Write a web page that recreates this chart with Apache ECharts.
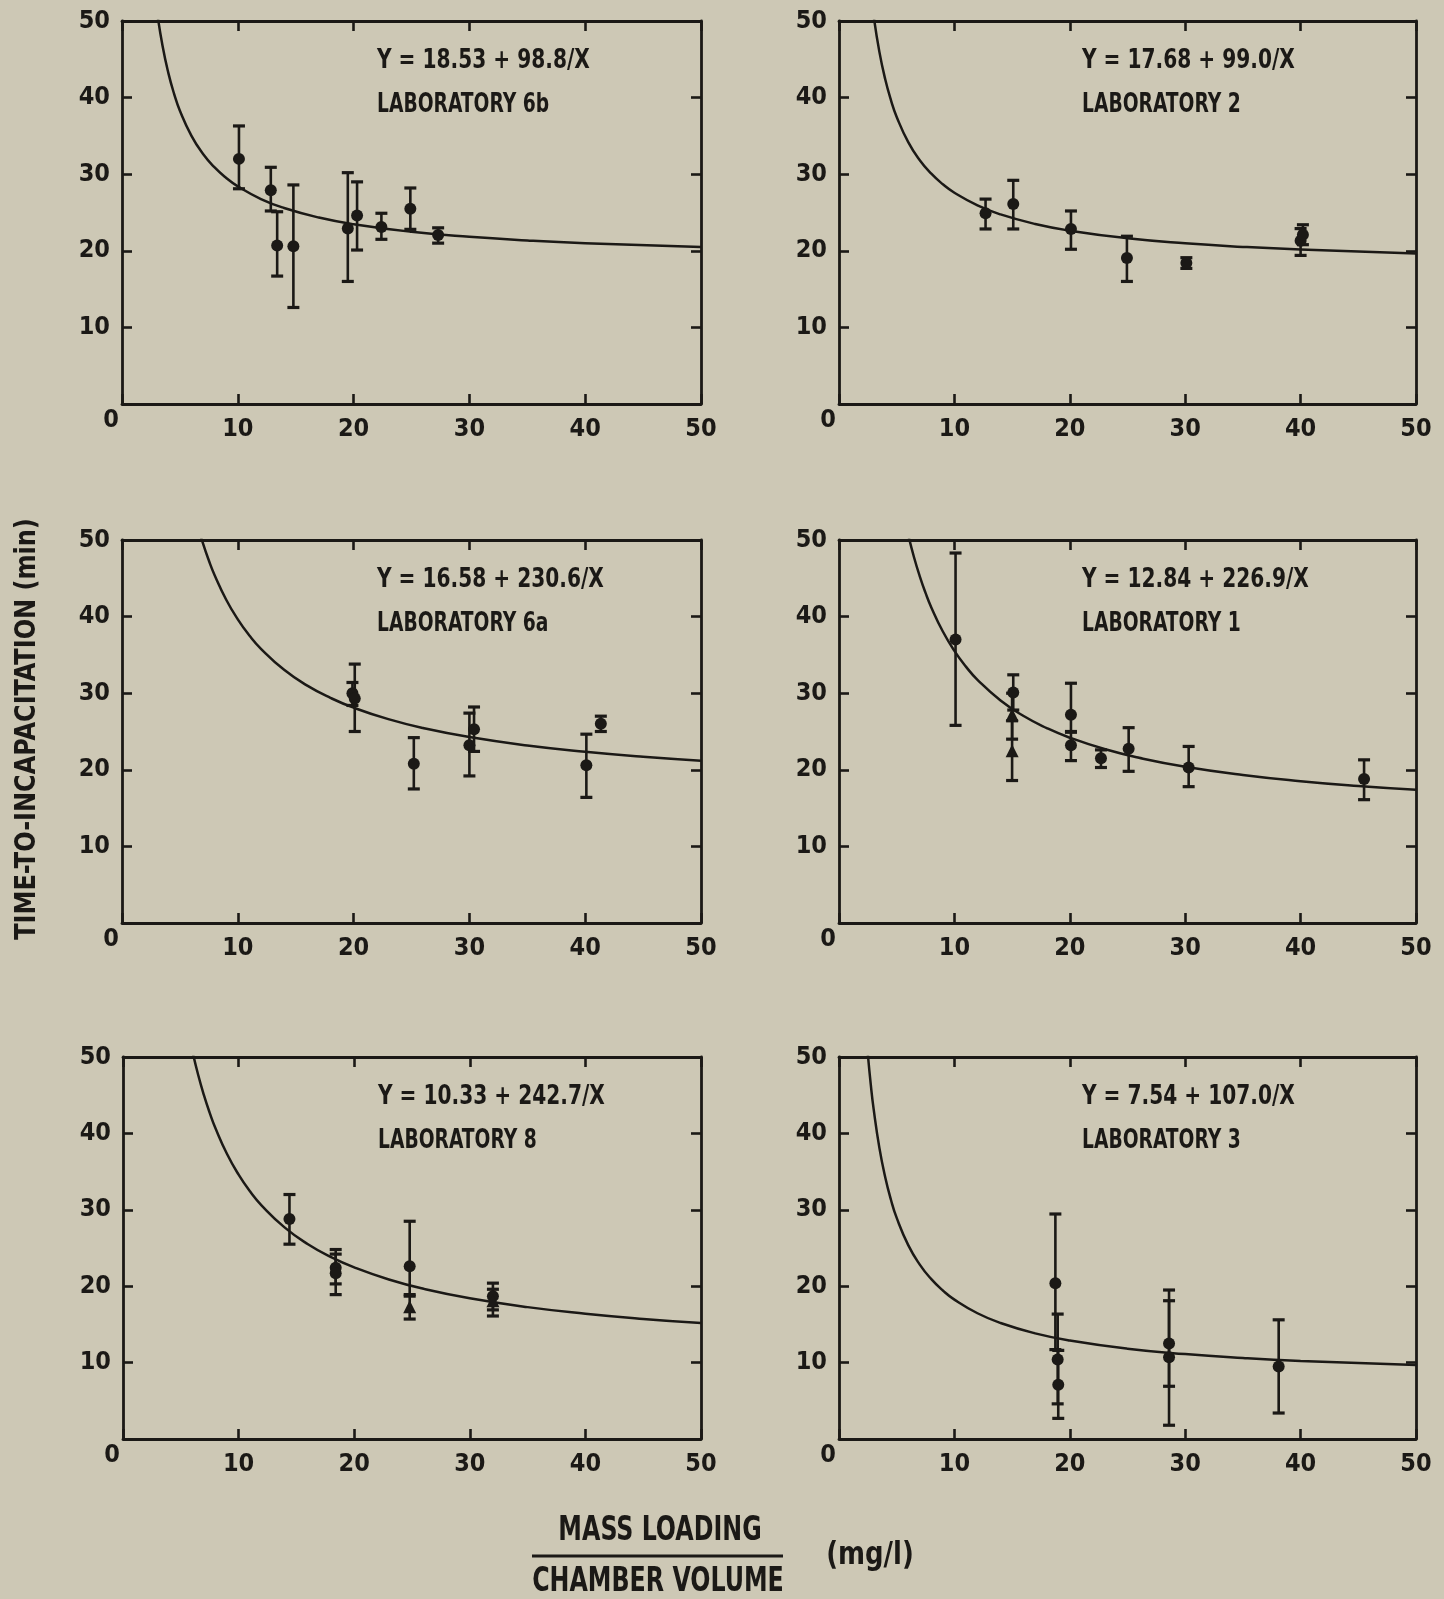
<!DOCTYPE html>
<html>
<head>
<meta charset="utf-8">
<script src="https://cdn.jsdelivr.net/npm/echarts@6/dist/echarts.min.js"></script>
<style>
html,body{margin:0;padding:0;background:#cdc8b5;}
#chart{width:1444px;height:1599px;}
</style>
</head>
<body>
<div id="chart"></div>
<script>
// ---------- tick labels ----------
const xTicks = [0, 10, 20, 30, 40, 50];
const yTicks = [0, 10, 20, 30, 40, 50];

// ---------- panel texts ----------
const equations = ['Y = 18.53 + 98.8/X', 'Y = 17.68 + 99.0/X', 'Y = 16.58 + 230.6/X',
                   'Y = 12.84 + 226.9/X', 'Y = 10.33 + 242.7/X', 'Y = 7.54 + 107.0/X'];
const labNames = ['LABORATORY 6b', 'LABORATORY 2', 'LABORATORY 6a',
                  'LABORATORY 1', 'LABORATORY 8', 'LABORATORY 3'];
const yTitle = 'TIME-TO-INCAPACITATION (min)';
const xTitleTop = 'MASS LOADING';
const xTitleBottom = 'CHAMBER VOLUME';
const xUnit = '(mg/l)';

// ---------- Laboratory 6b ----------
const lab6bX  = [10.1, 12.85, 13.4, 14.8, 19.5, 20.3, 22.4, 24.9, 27.3];
const lab6bY  = [32.0, 27.9, 20.7, 20.6, 22.9, 24.6, 23.1, 25.5, 22.05];
const lab6bLo = [28.1, 25.2, 16.7, 12.6, 16.0, 20.1, 21.5, 22.8, 21.0];
const lab6bHi = [36.3, 30.9, 25.1, 28.6, 30.2, 29.0, 24.9, 28.2, 23.0];
const lab6bSym = ['c','c','c','c','c','c','c','c','c'];
const curve6bX = [3, 3.5, 4, 4.5, 5, 6, 7, 8, 9, 10, 12, 14, 17, 20, 25, 30, 35, 40, 50];
const curve6bY = [51.46, 46.76, 43.23, 40.49, 38.29, 35.00, 32.64, 30.88, 29.51, 28.41, 26.76, 25.59, 24.34, 23.47, 22.48, 21.82, 21.35, 21.00, 20.51];

// ---------- Laboratory 2 ----------
const lab2X  = [12.7, 15.1, 20.1, 24.95, 30.1, 40.0, 40.2];
const lab2Y  = [24.9, 26.1, 22.85, 19.05, 18.4, 21.3, 22.1];
const lab2Lo = [22.85, 22.85, 20.2, 16.0, 17.7, 19.4, 20.8];
const lab2Hi = [26.75, 29.2, 25.2, 21.9, 19.1, 22.9, 23.4];
const lab2Sym = ['c','c','c','c','c','c','c'];
const curve2X = [3, 3.5, 4, 4.5, 5, 6, 7, 8, 9, 10, 12, 14, 17, 20, 25, 30, 35, 40, 50];
const curve2Y = [50.68, 45.97, 42.43, 39.68, 37.48, 34.18, 31.82, 30.06, 28.68, 27.58, 25.93, 24.75, 23.50, 22.63, 21.64, 20.98, 20.51, 20.16, 19.66];

// ---------- Laboratory 6a ----------
const lab6aX  = [19.9, 20.1, 25.2, 30.0, 30.4, 40.1, 41.35];
const lab6aY  = [30.0, 29.3, 20.8, 23.2, 25.3, 20.6, 26.0];
const lab6aLo = [28.4, 25.0, 17.5, 19.2, 22.4, 16.4, 25.0];
const lab6aHi = [31.4, 33.8, 24.2, 27.4, 28.2, 24.65, 27.0];
const lab6aSym = ['c','c','c','c','c','c','c'];
const curve6aX = [6.5, 7, 7.5, 8, 9, 10, 11, 12, 14, 16, 18, 20, 23, 26, 30, 35, 40, 45, 50];
const curve6aY = [52.06, 49.52, 47.33, 45.41, 42.20, 39.64, 37.54, 35.80, 33.05, 30.99, 29.39, 28.11, 26.61, 25.45, 24.27, 23.17, 22.35, 21.70, 21.19];

// ---------- Laboratory 1 ----------
const lab1X  = [10.1, 15.1, 15.0, 15.0, 20.1, 20.1, 22.7, 25.1, 30.3, 45.5];
const lab1Y  = [37.0, 30.1, 27.2, 22.5, 27.2, 23.2, 21.5, 22.75, 20.3, 18.8];
const lab1Lo = [25.8, 27.8, 24.0, 18.6, 24.9, 21.2, 20.3, 19.8, 17.8, 16.1];
const lab1Hi = [48.3, 32.4, 30.0, 26.4, 31.3, 25.0, 22.6, 25.5, 23.05, 21.3];
const lab1Sym = ['c','c','t','t','c','c','c','c','c','c'];
const curve1X = [6, 6.5, 7, 7.5, 8, 9, 10, 11, 12, 14, 16, 18, 20, 23, 26, 30, 35, 40, 45, 50];
const curve1Y = [50.66, 47.75, 45.25, 43.09, 41.20, 38.05, 35.53, 33.47, 31.75, 29.05, 27.02, 25.45, 24.19, 22.71, 21.57, 20.40, 19.32, 18.51, 17.88, 17.38];

// ---------- Laboratory 8 ----------
const lab8X  = [14.4, 18.4, 18.4, 24.8, 24.8, 32.0, 32.0];
const lab8Y  = [28.8, 22.4, 21.7, 22.6, 17.3, 18.7, 18.1];
const lab8Lo = [25.5, 20.3, 18.9, 18.7, 15.7, 16.1, 16.9];
const lab8Hi = [32.0, 24.8, 24.2, 28.5, 18.9, 20.4, 19.6];
const lab8Sym = ['c','c','c','c','t','c','t'];
const curve8X = [6, 6.5, 7, 7.5, 8, 9, 10, 11, 12, 14, 16, 18, 20, 23, 26, 30, 35, 40, 45, 50];
const curve8Y = [50.78, 47.67, 45.00, 42.69, 40.67, 37.30, 34.60, 32.39, 30.56, 27.67, 25.50, 23.81, 22.47, 20.88, 19.66, 18.42, 17.26, 16.40, 15.72, 15.18];

// ---------- Laboratory 3 ----------
const lab3X  = [18.75, 18.95, 19.0, 28.6, 28.6, 38.1];
const lab3Y  = [20.4, 10.4, 7.1, 12.5, 10.7, 9.5];
const lab3Lo = [11.7, 4.6, 2.7, 6.9, 1.8, 3.4];
const lab3Hi = [29.45, 16.35, 11.6, 19.5, 18.1, 15.6];
const lab3Sym = ['c','c','c','c','c','c'];
const curve3X = [2.5, 2.75, 3, 3.5, 4, 4.5, 5, 6, 7, 8, 9, 10, 12, 14, 17, 20, 25, 30, 35, 40, 50];
const curve3Y = [50.34, 46.45, 43.21, 38.11, 34.29, 31.32, 28.94, 25.37, 22.83, 20.92, 19.43, 18.24, 16.46, 15.18, 13.83, 12.89, 11.82, 11.11, 10.60, 10.22, 9.68];

// ---------- assembly ----------
const panels = [
  {x: lab6bX, y: lab6bY, lo: lab6bLo, hi: lab6bHi, sym: lab6bSym, cx: curve6bX, cy: curve6bY},
  {x: lab2X,  y: lab2Y,  lo: lab2Lo,  hi: lab2Hi,  sym: lab2Sym,  cx: curve2X,  cy: curve2Y},
  {x: lab6aX, y: lab6aY, lo: lab6aLo, hi: lab6aHi, sym: lab6aSym, cx: curve6aX, cy: curve6aY},
  {x: lab1X,  y: lab1Y,  lo: lab1Lo,  hi: lab1Hi,  sym: lab1Sym,  cx: curve1X,  cy: curve1Y},
  {x: lab8X,  y: lab8Y,  lo: lab8Lo,  hi: lab8Hi,  sym: lab8Sym,  cx: curve8X,  cy: curve8Y},
  {x: lab3X,  y: lab3Y,  lo: lab3Lo,  hi: lab3Hi,  sym: lab3Sym,  cx: curve3X,  cy: curve3Y}
];

const INK = '#1b1916';
const BG = '#cdc8b5';
const FONT = "'Liberation Sans Narrow','DejaVu Sans Condensed','Arial Narrow','Liberation Sans',sans-serif";

const layout = [
  {left: 122, top: 21,   width: 579, height: 383},
  {left: 839, top: 21,   width: 577, height: 383},
  {left: 122, top: 540,  width: 579, height: 383},
  {left: 839, top: 540,  width: 577, height: 383},
  {left: 123, top: 1057, width: 578, height: 382},
  {left: 839, top: 1057, width: 577, height: 382}
];

const grids = [], xAxes = [], yAxes = [], series = [], graphics = [];

const axisLineStyle = {color: INK, width: 2.8};
const tickStyle = {show: true, inside: true, length: 10, lineStyle: {color: INK, width: 2.6}};
const LABEL_SIZE = 25;

layout.forEach((g) => {
  grids.push({left: g.left, top: g.top, width: g.width, height: g.height, containLabel: false, show: false});
});
// bottom x axes
layout.forEach((g, i) => {
  xAxes.push({
    type: 'value', gridIndex: i, position: 'bottom',
    min: xTicks[0], max: xTicks[xTicks.length - 1], interval: 10,
    axisLine: {show: true, onZero: false, lineStyle: axisLineStyle},
    axisTick: tickStyle,
    splitLine: {show: false},
    axisLabel: {
      show: true, margin: 13, color: INK, fontFamily: FONT, fontWeight: 'bold', fontSize: LABEL_SIZE,
      formatter: v => v === 0 ? '{z|0}' : String(v),
      rich: {z: {padding: [0, 22, 0, 0], lineHeight: 6, color: INK, fontFamily: FONT, fontWeight: 'bold', fontSize: LABEL_SIZE}}
    }
  });
});
// top x axes
layout.forEach((g, i) => {
  xAxes.push({
    type: 'value', gridIndex: i, position: 'top',
    min: xTicks[0], max: xTicks[xTicks.length - 1], interval: 10,
    axisLine: {show: true, onZero: false, lineStyle: axisLineStyle},
    axisTick: tickStyle, splitLine: {show: false}, axisLabel: {show: false}
  });
});
// left y axes
layout.forEach((g, i) => {
  yAxes.push({
    type: 'value', gridIndex: i, position: 'left',
    min: yTicks[0], max: yTicks[yTicks.length - 1], interval: 10,
    axisLine: {show: true, onZero: false, lineStyle: axisLineStyle},
    axisTick: tickStyle, splitLine: {show: false},
    axisLabel: {
      show: true, margin: 12, color: INK, fontFamily: FONT, fontWeight: 'bold', fontSize: LABEL_SIZE,
      formatter: v => v === 0 ? '' : String(v)
    }
  });
});
// right y axes
layout.forEach((g, i) => {
  yAxes.push({
    type: 'value', gridIndex: i, position: 'right',
    min: yTicks[0], max: yTicks[yTicks.length - 1], interval: 10,
    axisLine: {show: true, onZero: false, lineStyle: axisLineStyle},
    axisTick: tickStyle, splitLine: {show: false}, axisLabel: {show: false}
  });
});

panels.forEach((p, i) => {
  // fitted curve
  series.push({
    type: 'line', xAxisIndex: i, yAxisIndex: i,
    data: p.cx.map((x, k) => [x, p.cy[k]]),
    showSymbol: false, smooth: 0.5, clip: true,
    lineStyle: {color: INK, width: 2.5}, silent: true, z: 2
  });
  // error bars
  series.push({
    type: 'custom', xAxisIndex: i, yAxisIndex: i,
    data: p.x.map((x, k) => [x, p.lo[k], p.hi[k]]),
    renderItem: (params, api) => {
      const a = api.coord([api.value(0), api.value(1)]);
      const b = api.coord([api.value(0), api.value(2)]);
      const w = 6;
      return {type: 'group', children: [
        {type: 'line', shape: {x1: a[0], y1: a[1], x2: b[0], y2: b[1]}, style: {stroke: INK, lineWidth: 2.6}},
        {type: 'line', shape: {x1: a[0] - w, y1: a[1], x2: a[0] + w, y2: a[1]}, style: {stroke: INK, lineWidth: 3.2}},
        {type: 'line', shape: {x1: b[0] - w, y1: b[1], x2: b[0] + w, y2: b[1]}, style: {stroke: INK, lineWidth: 3.2}}
      ]};
    },
    silent: true, z: 3
  });
  // markers
  series.push({
    type: 'scatter', xAxisIndex: i, yAxisIndex: i,
    data: p.x.map((x, k) => ({
      value: [x, p.y[k]],
      symbol: p.sym[k] === 't' ? 'triangle' : 'circle',
      symbolSize: p.sym[k] === 't' ? 13 : 12
    })),
    itemStyle: {color: INK, opacity: 1}, silent: true, z: 4
  });
  // annotations
  const g = layout[i];
  const tx = g.left + (i % 2 === 0 ? 255 : 243);
  graphics.push({type: 'text', x: tx, y: g.top + 40, scaleX: 0.83,
    style: {text: equations[i], fill: INK, font: 'bold 27px ' + FONT, verticalAlign: 'middle'}});
  graphics.push({type: 'text', x: tx, y: g.top + 84, scaleX: 0.77,
    style: {text: labNames[i], fill: INK, font: 'bold 27px ' + FONT, verticalAlign: 'middle'}});
});

// axis titles
graphics.push({type: 'text', x: 27, y: 729, rotation: Math.PI / 2, scaleX: 0.92,
  style: {text: yTitle, fill: INK, font: 'bold 29px ' + FONT, align: 'center', verticalAlign: 'middle'}});
graphics.push({type: 'text', x: 660, y: 1531, scaleX: 0.8,
  style: {text: xTitleTop, fill: INK, font: 'bold 33px ' + FONT, align: 'center', verticalAlign: 'middle'}});
graphics.push({type: 'line', shape: {x1: 532, y1: 1556, x2: 783, y2: 1556}, style: {stroke: INK, lineWidth: 2.8}});
graphics.push({type: 'text', x: 658, y: 1582, scaleX: 0.8,
  style: {text: xTitleBottom, fill: INK, font: 'bold 33px ' + FONT, align: 'center', verticalAlign: 'middle'}});
graphics.push({type: 'text', x: 870, y: 1556, scaleX: 0.9,
  style: {text: xUnit, fill: INK, font: 'bold 32px ' + FONT, align: 'center', verticalAlign: 'middle'}});

const chart = echarts.init(document.getElementById('chart'), null, {renderer: 'canvas'});
chart.setOption({
  backgroundColor: BG,
  animation: false,
  grid: grids,
  xAxis: xAxes,
  yAxis: yAxes,
  series: series,
  graphic: graphics
});
</script>
</body>
</html>
